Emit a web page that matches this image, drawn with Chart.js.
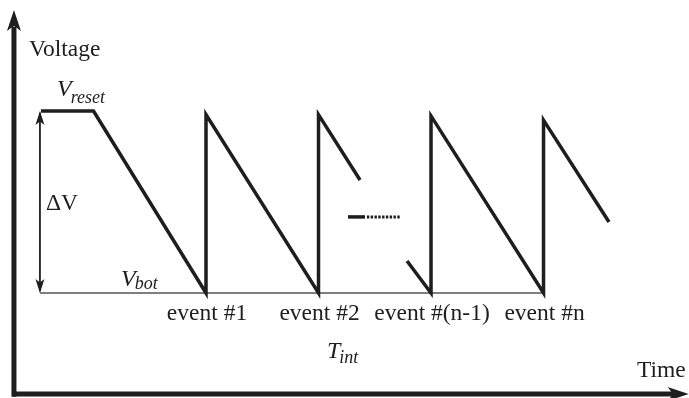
<!DOCTYPE html>
<html>
<head>
<meta charset="utf-8">
<script src="https://cdn.jsdelivr.net/npm/chart.js@4/dist/chart.umd.min.js"></script>
<style>
  html, body { margin: 0; padding: 0; background: #fff; }
  #wrap { width: 689px; height: 398px; position: relative; }
</style>
</head>
<body>
<div id="wrap"><canvas id="c"></canvas></div>
<script>
// Time is measured in integration periods (T_int = 1); voltage is
// normalised so that V_bot = 0 and V_reset = 1.
const V_BOT = 0;
const V_RESET = 1;

// Reset plateau, then ramps between events
const rampTimes1 = [-0.467, 0, 1, 1, 2, 2, 2.369];
const rampVolts1 = [V_RESET, V_RESET, V_BOT, 0.98, V_BOT, 0.98, 0.621];

const rampTimes2 = [2.787, 3, 3, 4, 4, 4.582];
const rampVolts2 = [0.176, V_BOT, 0.973, V_BOT, 0.95, 0.39];

// "..." continuation mark between event #2 and event #(n-1)
const gapSolidTimes = [2.262, 2.413];
const gapDotTimes = [2.43, 2.724];
const gapLevel = 0.418;

// Event markers
const eventTimes = [1, 2, 3, 4];
const eventLabels = ['event #1', 'event #2', 'event #(n-1)', 'event #n'];

// Axes and ΔV marker
const axisTime = -0.707;
const axisVolt = -0.555;
const axisTopVolt = 1.555;
const axisEndTime = 5.29;
const deltaTime = -0.476;

const xyPairs = (ts, vs) => ts.map((t, i) => ({ x: t, y: vs[i] }));

const ink = '#1e1e1e';
const serif = '"Liberation Serif", "Times New Roman", serif';

const datasets = [
  { data: xyPairs(rampTimes1, rampVolts1), borderColor: ink, borderWidth: 3.5 },
  { data: xyPairs(rampTimes2, rampVolts2), borderColor: ink, borderWidth: 3.5 },
  { data: xyPairs(gapSolidTimes, [gapLevel, gapLevel]), borderColor: ink, borderWidth: 3.5, borderCapStyle: 'butt' },
  { data: xyPairs(gapDotTimes, [gapLevel, gapLevel]), borderColor: ink, borderWidth: 3, borderDash: [2.4, 1.4], borderCapStyle: 'butt' },
  // base line at V_bot
  { data: xyPairs([deltaTime, eventTimes[3]], [V_BOT, V_BOT]), borderColor: '#555', borderWidth: 1.5 },
  // ΔV span
  { data: xyPairs([deltaTime, deltaTime], [V_BOT + 0.01, V_RESET - 0.01]), borderColor: ink, borderWidth: 1.8 },
  // axes
  { data: xyPairs([axisTime, axisTime], [axisVolt - 0.015, axisTopVolt - 0.09]), borderColor: ink, borderWidth: 5, borderCapStyle: 'butt' },
  { data: xyPairs([axisTime - 0.012, axisEndTime - 0.1], [axisVolt, axisVolt]), borderColor: ink, borderWidth: 5, borderCapStyle: 'butt' }
].map(d => Object.assign({ pointRadius: 0, tension: 0, fill: false, borderJoinStyle: 'miter' }, d));

const arrowsAndText = {
  id: 'arrowsAndText',
  afterDatasetsDraw(chart) {
    const { ctx, scales: { x, y } } = chart;
    const px = t => x.getPixelForValue(t);
    const py = v => y.getPixelForValue(v);

    // arrow head pointing in direction (dx, dy) with tip at (tx, ty)
    const head = (tx, ty, dx, dy, len, half) => {
      const nx = -dy, ny = dx;
      ctx.beginPath();
      ctx.moveTo(tx, ty);
      ctx.lineTo(tx - dx * len + nx * half, ty - dy * len + ny * half);
      ctx.lineTo(tx - dx * len * 0.75, ty - dy * len * 0.75);
      ctx.lineTo(tx - dx * len - nx * half, ty - dy * len - ny * half);
      ctx.closePath();
      ctx.fill();
    };

    ctx.save();
    ctx.fillStyle = ink;
    head(px(axisTime), py(axisTopVolt), 0, -1, 21, 7);
    head(px(axisEndTime), py(axisVolt), 1, 0, 21, 7);
    head(px(deltaTime), py(V_RESET), 0, -1, 14, 4.5);
    head(px(deltaTime), py(V_BOT), 0, 1, 14, 4.5);

    const text = (str, tx, ty, font, align) => {
      ctx.font = font;
      ctx.textAlign = align || 'left';
      ctx.textBaseline = 'alphabetic';
      ctx.fillText(str, tx, ty);
      return ctx.measureText(str).width;
    };
    const upright = '23.5px ' + serif;
    const italic = 'italic 24px ' + serif;
    const subIt = 'italic 18px ' + serif;

    text('Voltage', px(axisTime) + 15, 56, upright);
    text('Time', px(axisEndTime) - 3, 377, upright, 'right');
    text('ΔV', px(deltaTime) + 6, 210, upright);

    let w = text('V', 57, 96, italic);
    text('reset', 57 + w - 1, 103, subIt);
    w = text('V', 121, 286, italic);
    text('bot', 121 + w - 1, 289, subIt);
    w = text('T', 327, 358, italic);
    text('int', 327 + w - 1, 363, subIt);

    eventTimes.forEach((t, i) => {
      text(eventLabels[i], px(t) + 1, py(V_BOT) + 27, upright, 'center');
    });
    ctx.restore();
  }
};

new Chart(document.getElementById('c'), {
  type: 'line',
  data: { datasets },
  options: {
    responsive: true,
    maintainAspectRatio: false,
    animation: false,
    layout: { padding: 0 },
    plugins: { legend: { display: false }, tooltip: { enabled: false } },
    scales: {
      x: { type: 'linear', display: false, min: -0.831, max: 5.293 },
      y: { type: 'linear', display: false, min: -0.577, max: 1.610 }
    }
  },
  plugins: [arrowsAndText]
});
</script>
</body>
</html>
